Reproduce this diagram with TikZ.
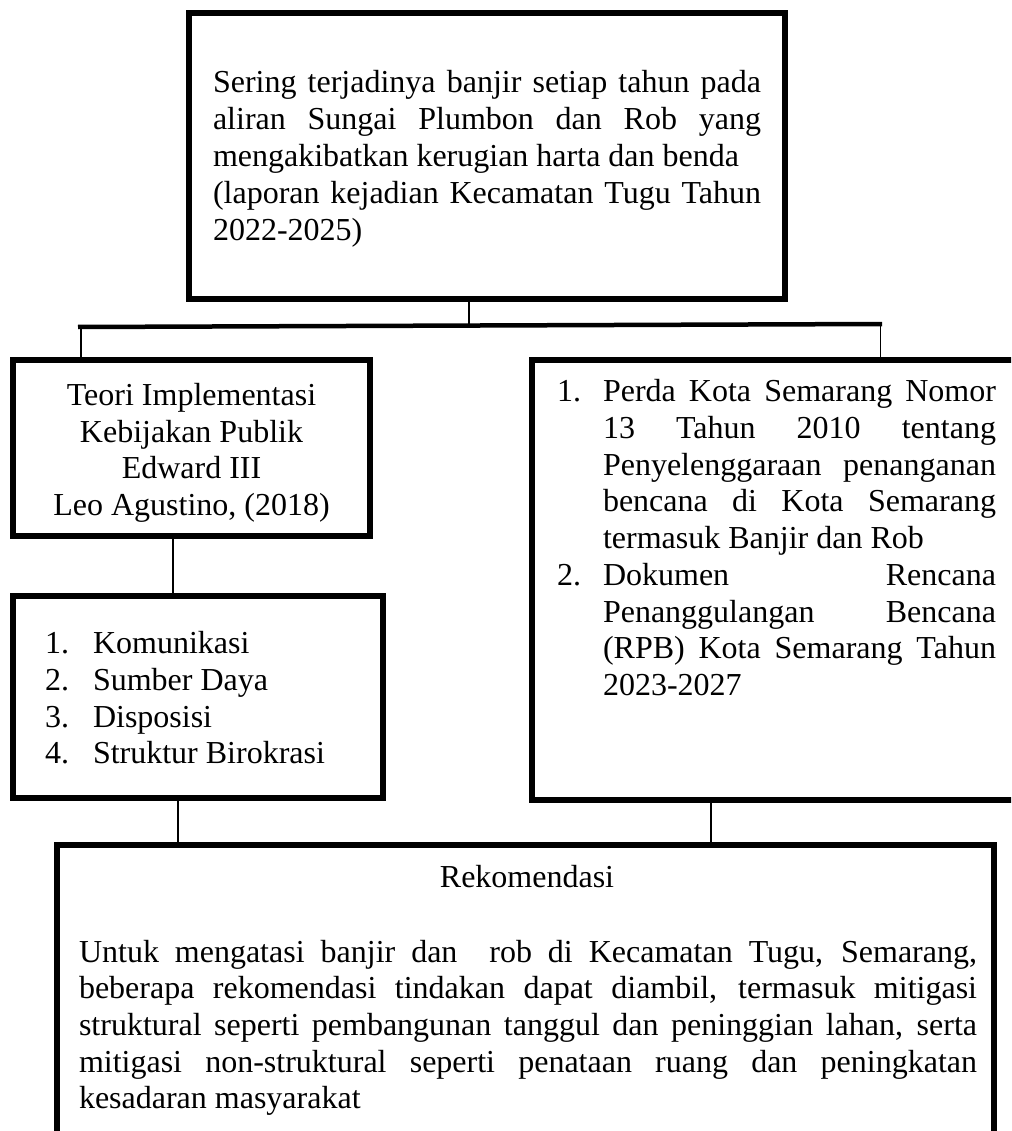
\documentclass[tikz,border=0pt]{standalone}
\usepackage{fontspec}
\setmainfont{Liberation Serif}
\begin{document}
\begin{tikzpicture}[x=1pt,y=-1pt,
  box/.style={draw=black, line width=6pt, rectangle, inner sep=0pt, fill=none},
  bar/.style={line width=4.5pt},
  stem/.style={line width=1.3pt},
  txt/.style={inner sep=0pt, outer sep=0pt, font=\fontsize{32}{36.8}\selectfont}]
\useasboundingbox (0,0) rectangle (1011,1131);
\clip (0,0) rectangle (1011,1131);
\fill[white] (0,0) rectangle (1011,1131);

% boxes
\node[box, minimum width=596pt, minimum height=286pt] (top) at (487,156) {};
\node[box, minimum width=357pt, minimum height=176pt] (left1) at (191.5,448) {};
\node[box, minimum width=370pt, minimum height=202pt] (left2) at (198,697) {};
\node[box, minimum width=498pt, minimum height=440pt] (right) at (781,580) {};
\node[box, minimum width=937pt, minimum height=305pt] (bottom) at (525.5,997.5) {};

% top text
\node[txt, anchor=base west] (t1) at (213,93) {\makebox[548pt][s]{Sering terjadinya banjir setiap tahun pada}};
\node[txt, anchor=base west] (t2) at (213,130) {\makebox[548pt][s]{aliran Sungai Plumbon dan Rob yang}};
\node[txt, anchor=base west] (t3) at (213,167) {mengakibatkan kerugian harta dan benda};
\node[txt, anchor=base west] (t4) at (213,204) {\makebox[548pt][s]{(laporan kejadian Kecamatan Tugu Tahun}};
\node[txt, anchor=base west] (t5) at (213,241) {2022-2025)};

% left1 text
\node[txt, anchor=base] (l1a) at (191.5,405) {Teori Implementasi};
\node[txt, anchor=base] (l1b) at (191.5,442) {Kebijakan Publik};
\node[txt, anchor=base] (l1c) at (191.5,478) {Edward III};
\node[txt, anchor=base] (l1d) at (191.5,515) {Leo Agustino, (2018)};

% left2 text
\node[txt, anchor=base west] (n1) at (45,653) {1.};
\node[txt, anchor=base west] (k1) at (93,653) {Komunikasi};
\node[txt, anchor=base west] (n2) at (45,690) {2.};
\node[txt, anchor=base west] (k2) at (93,690) {Sumber Daya};
\node[txt, anchor=base west] (n3) at (45,727) {3.};
\node[txt, anchor=base west] (k3) at (93,727) {Disposisi};
\node[txt, anchor=base west] (n4) at (45,763) {4.};
\node[txt, anchor=base west] (k4) at (93,763) {Struktur Birokrasi};

% right text
\node[txt, anchor=base west] (rn1) at (557,401) {1.};
\node[txt, anchor=base west] (r1) at (603,401) {\makebox[393pt][s]{Perda Kota Semarang Nomor}};
\node[txt, anchor=base west] (r2) at (603,438) {\makebox[393pt][s]{13 Tahun 2010 tentang}};
\node[txt, anchor=base west] (r3) at (603,475) {\makebox[393pt][s]{Penyelenggaraan penanganan}};
\node[txt, anchor=base west] (r4) at (603,511) {\makebox[393pt][s]{bencana di Kota Semarang}};
\node[txt, anchor=base west] (r5) at (603,548) {termasuk Banjir dan Rob};
\node[txt, anchor=base west] (rn2) at (557,585) {2.};
\node[txt, anchor=base west] (r6) at (603,585) {\makebox[393pt][s]{Dokumen Rencana}};
\node[txt, anchor=base west] (r7) at (603,622) {\makebox[393pt][s]{Penanggulangan Bencana}};
\node[txt, anchor=base west] (r8) at (603,658) {\makebox[393pt][s]{(RPB) Kota Semarang Tahun}};
\node[txt, anchor=base west] (r9) at (603,695) {2023-2027};

% bottom text
\node[txt, anchor=base] (bh) at (527,887) {Rekomendasi};
\node[txt, anchor=base west] (b1) at (79,962) {\makebox[898pt][s]{Untuk mengatasi banjir dan\ \ rob di Kecamatan Tugu, Semarang,}};
\node[txt, anchor=base west] (b2) at (79,998) {\makebox[898pt][s]{beberapa rekomendasi tindakan dapat diambil, termasuk mitigasi}};
\node[txt, anchor=base west] (b3) at (79,1035) {\makebox[898pt][s]{struktural seperti pembangunan tanggul dan peninggian lahan, serta}};
\node[txt, anchor=base west] (b4) at (79,1072) {\makebox[898pt][s]{mitigasi non-struktural seperti penataan ruang dan peningkatan}};
\node[txt, anchor=base west] (b5) at (79,1108) {kesadaran masyarakat};

% connectors
\coordinate (bL) at (78,327);
\coordinate (bR) at (882,324);
\coordinate (bM) at (469,325.5);
\coordinate (sL) at (81,327);
\coordinate (sR) at (880.5,324);
\coordinate (c1) at (173,0);
\coordinate (c2) at (178,0);
\coordinate (c3) at (711,0);

\draw[stem] (top.south -| bM) -- (bM);
\draw[bar] (bL) -- (bR);
\draw[stem] (sL) -- (sL |- left1.north);
\draw[stem] (sR) -- (sR |- right.north);
\draw[stem] (left1.south -| c1) -- (left2.north -| c1);
\draw[stem] (left2.south -| c2) -- (bottom.north -| c2);
\draw[stem] (right.south -| c3) -- (bottom.north -| c3);
\end{tikzpicture}
\end{document}
